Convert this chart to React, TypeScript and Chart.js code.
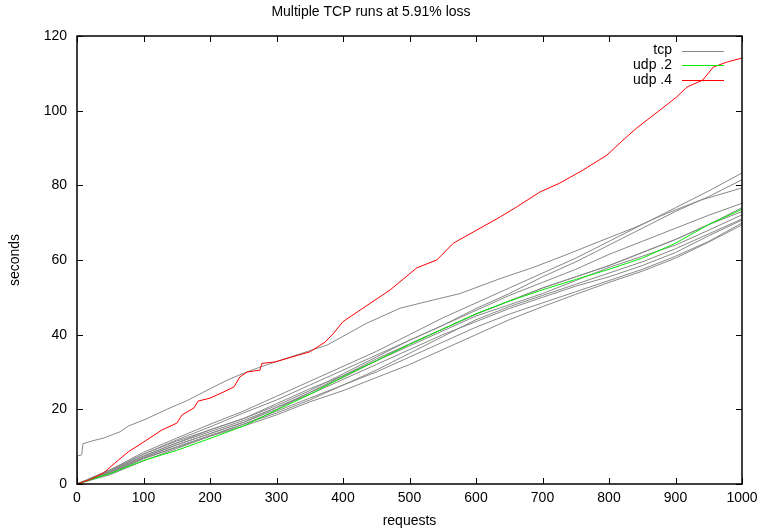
import React, { useEffect, useRef } from "react";
import { Chart, registerables } from "chart.js";

Chart.register(...registerables);

const TITLE = "Multiple TCP runs at 5.91% loss";
const X_LABEL = "requests";
const Y_LABEL = "seconds";
const X_TICKS = [0, 100, 200, 300, 400, 500, 600, 700, 800, 900, 1000];
const Y_TICKS = [0, 20, 40, 60, 80, 100, 120];
const LEGEND_LABELS = ["tcp", "udp .2", "udp .4"];

const GRAY = "#888888";
const GREEN = "#00ee00";
const RED = "#ff0000";
const LEGEND_COLORS = [GRAY, GREEN, RED];

// request counts sampled every 50
const REQ = [0, 50, 100, 150, 200, 250, 300, 350, 400, 450, 500, 550, 600, 650, 700, 750, 800, 850, 900, 950, 1000];

// tcp runs (seconds at each REQ)
const tcpA = [0, 3.8, 8.5, 12.3, 16, 19.5, 23.5, 27.5, 31.5, 35.5, 40, 44.5, 48.5, 52.5, 56.5, 60.5, 65, 69.5, 74, 78.5, 83.3];
const tcpB = [0, 3.5, 8, 11.8, 15.3, 19, 22.5, 26.5, 30.5, 34.5, 38.5, 42.5, 47, 51, 55.5, 59.5, 64, 68.5, 73, 77, 81.5];
const tcpC = [0, 3.5, 7.5, 11, 14.5, 17.5, 21, 25, 29.5, 34, 38.5, 42.5, 46.5, 50.5, 54, 57.5, 61.5, 65, 68.5, 72, 75.2];
const tcpD = [0, 3, 7, 10.5, 13.5, 16.5, 20, 24.5, 29, 33.5, 37.5, 41.5, 45.5, 49, 52.5, 55.5, 58.5, 62, 65.5, 69.5, 74];
const tcpE = [0, 3.8, 8, 11.5, 14.5, 17.5, 21.5, 25.5, 29, 33, 37, 41, 45, 48, 51, 54.5, 58, 61, 64, 68, 72.1];
const tcpF = [0, 2.5, 6.2, 9.5, 12.8, 16, 19, 22.5, 26.5, 30.5, 35, 39.5, 44, 47.5, 50.5, 53.5, 56.5, 59.5, 63, 67, 71];
const tcpG = [0, 3.2, 7.2, 10.5, 13.5, 16.5, 20.5, 24, 28, 32, 36, 40, 43.5, 47, 50, 53, 55.5, 58.5, 62, 66.5, 70.7];
const tcpH = [0, 2.8, 6.8, 10, 13, 16, 19.5, 23, 26.5, 30, 34, 38, 42, 45.5, 48.5, 51.5, 54.5, 57.5, 61, 65, 69.9];
const tcpI = [0, 3.3, 7.5, 11, 14, 17, 20.5, 24.5, 28.5, 33, 37.5, 41.5, 45.5, 49, 52.5, 55.5, 58.5, 62, 65.5, 69.5, 73];
const tcpJ = [0, 3, 6.8, 9.8, 12.8, 15.5, 18.5, 22, 25, 28.5, 32, 36, 40, 44, 47.5, 50.8, 54, 57, 60.5, 64.8, 69.4];

// tcp run with an early stall
const tcpSlowX = [0, 0.5, 7, 9, 24, 40, 65, 77, 105, 135, 165, 200, 227, 251, 275, 317, 376, 436, 486, 536, 576, 636, 686, 737, 786, 836, 887, 937, 1000];
const tcpSlowY = [0, 7.5, 7.8, 10.8, 11.6, 12.3, 14, 15.5, 17.5, 20, 22.3, 25.5, 27.9, 29.7, 31.3, 33.8, 37.2, 43.1, 47.1, 49.3, 51, 55, 58, 61.5, 65, 68.5, 72.5, 76, 79.3];

// udp .2
const udp2 = [0, 2.8, 6.3, 9, 12.2, 15.5, 19.8, 24, 28.7, 33, 37.4, 41.5, 45.6, 49, 52, 54.8, 57.5, 60.5, 64.5, 69.5, 73.6];

// udp .4
const udp4X = [0, 20, 40, 57, 77, 105, 128, 150, 158, 176, 182, 200, 221, 236, 245, 256, 275, 278, 298, 323, 350, 373, 385, 400, 430, 471, 511, 541, 566, 601, 636, 661, 696, 726, 761, 797, 821, 842, 877, 902, 917, 941, 957, 977, 1000];
const udp4Y = [0, 1.2, 3, 5.6, 8.6, 11.8, 14.5, 16.3, 18.5, 20.4, 22.2, 23, 24.7, 26, 28.7, 30, 30.5, 32.3, 32.7, 34, 35.4, 38, 40.2, 43.5, 47.1, 52, 57.9, 60, 64.5, 68, 71.5, 74.2, 78.2, 80.6, 84.1, 88.1, 92.1, 95.4, 100.2, 103.7, 106.3, 108.2, 111.7, 113, 114.1];

const FONT = "'Liberation Sans', Arial, Helvetica, sans-serif";

const pts = (xs: number[], ys: number[]) => xs.map((x, i) => ({ x, y: ys[i] }));

const framePlugin = {
  id: "gnuFrame",
  afterDatasetsDraw(chart: any) {
    const { ctx, chartArea } = chart;
    const xs = chart.scales.x;
    const ys = chart.scales.y;
    const { left, right, top, bottom } = chartArea;
    ctx.save();
    ctx.strokeStyle = "#000";
    ctx.lineWidth = 1;
    ctx.beginPath();
    const T = 6;
    for (const v of X_TICKS) {
      const px = Math.round(xs.getPixelForValue(v)) + 0.5;
      ctx.moveTo(px, bottom);
      ctx.lineTo(px, bottom - T);
      ctx.moveTo(px, top);
      ctx.lineTo(px, top + T);
    }
    for (const v of Y_TICKS) {
      const py = Math.round(ys.getPixelForValue(v)) + 0.5;
      ctx.moveTo(left, py);
      ctx.lineTo(left + T, py);
      ctx.moveTo(right, py);
      ctx.lineTo(right - T, py);
    }
    ctx.stroke();
    ctx.lineWidth = 1.5;
    ctx.strokeRect(left, top, right - left, bottom - top);

    // legend
    ctx.font = `14px ${FONT}`;
    ctx.textAlign = "right";
    ctx.textBaseline = "middle";
    const textRight = right - 70;
    const lineStart = right - 60;
    const lineLen = 42;
    LEGEND_LABELS.forEach((lab, i) => {
      const y = top + 14.5 + i * 14.7;
      ctx.fillStyle = "#000";
      ctx.fillText(lab, textRight, y);
      ctx.fillStyle = LEGEND_COLORS[i];
      ctx.fillRect(lineStart, Math.round(y), lineLen, 1);
    });
    ctx.restore();
  },
};

export default function App() {
  const ref = useRef<HTMLCanvasElement>(null);
  useEffect(() => {
    if (!ref.current) return;
    const line = (label: string, data: any[], color: string) => ({
      label,
      data,
      borderColor: color,
      backgroundColor: color,
      borderWidth: 1,
      pointRadius: 0,
      tension: 0,
      fill: false,
    });
    const grayRuns = [tcpA, tcpB, tcpC, tcpD, tcpE, tcpF, tcpG, tcpH, tcpI, tcpJ];
    const chart = new Chart(ref.current, {
      type: "line",
      data: {
        datasets: [
          line("udp .4", pts(udp4X, udp4Y), RED),
          line("udp .2", pts(REQ, udp2), GREEN),
          line("tcp", pts(tcpSlowX, tcpSlowY), GRAY),
          ...grayRuns.map((r) => line("tcp", pts(REQ, r), GRAY)),
        ],
      },
      options: {
        animation: false,
        responsive: false,
        devicePixelRatio: 1,
        layout: { padding: { left: 0, right: 22, top: 0, bottom: 0 } },
        plugins: {
          legend: { display: false },
          tooltip: { enabled: false },
          title: {
            display: true,
            text: TITLE,
            color: "#000",
            font: { family: FONT, size: 14, weight: "normal" },
            padding: { top: 4, bottom: 15.2 },
          },
        },
        scales: {
          x: {
            type: "linear",
            min: 0,
            max: 1000,
            afterFit: (s: any) => {
              s.height = 47;
            },
            afterBuildTicks: (s: any) => {
              s.ticks = X_TICKS.map((v) => ({ value: v }));
            },
            grid: { display: false, drawTicks: false },
            border: { display: false },
            ticks: {
              color: "#000",
              font: { family: FONT, size: 14 },
              padding: 6,
              maxRotation: 0,
              autoSkip: false,
              callback: (v: any) => String(v),
            },
            title: {
              display: true,
              text: X_LABEL,
              color: "#000",
              font: { family: FONT, size: 14 },
              padding: { top: 0, bottom: 1 },
            },
          },
          y: {
            type: "linear",
            min: 0,
            max: 120,
            afterFit: (s: any) => {
              s.width = 77;
            },
            afterBuildTicks: (s: any) => {
              s.ticks = Y_TICKS.map((v) => ({ value: v }));
            },
            grid: { display: false, drawTicks: false },
            border: { display: false },
            ticks: {
              color: "#000",
              font: { family: FONT, size: 14 },
              padding: 10,
              autoSkip: false,
              callback: (v: any) => String(v),
            },
            title: {
              display: true,
              text: Y_LABEL,
              color: "#000",
              font: { family: FONT, size: 14 },
              padding: { top: 7, bottom: 0 },
            },
          },
        },
      },
      plugins: [framePlugin],
    });
    return () => chart.destroy();
  }, []);
  return (
    <div style={{ position: "absolute", left: 0, top: 0, width: 764, height: 531, background: "#fff" }}>
      <canvas ref={ref} width={764} height={531} />
    </div>
  );
}
